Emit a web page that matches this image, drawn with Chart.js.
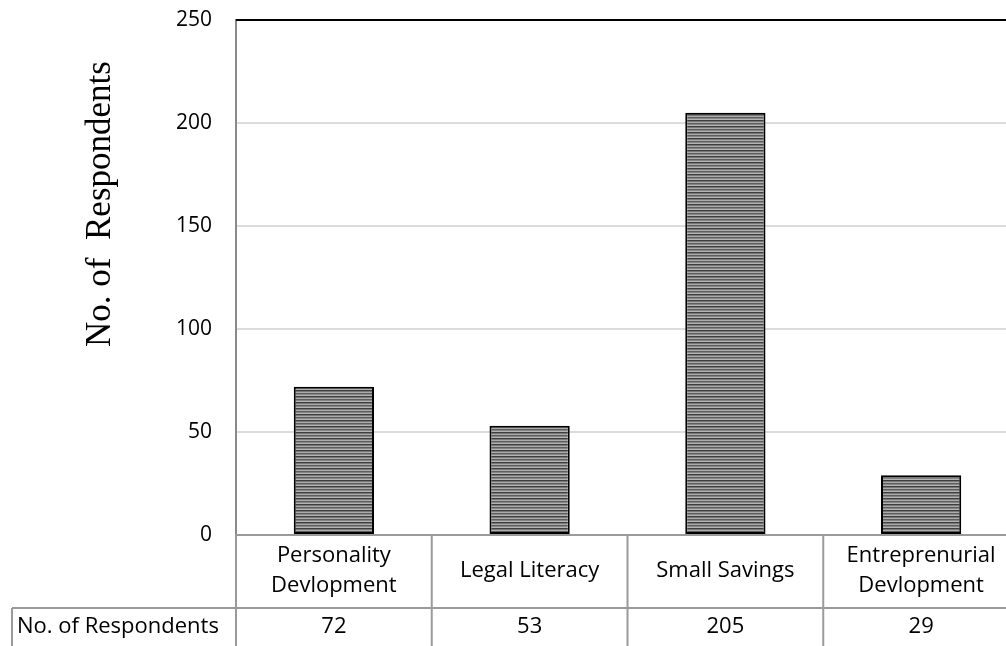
<!DOCTYPE html>
<html>
<head>
<meta charset="utf-8">
<script src="https://cdn.jsdelivr.net/npm/chart.js@4.4.1/dist/chart.umd.min.js"></script>
<style>
html,body{margin:0;padding:0;background:#fff;overflow:hidden;width:1006px;height:646px;}
canvas{display:block;}
</style>
</head>
<body>
<canvas id="c" width="1019" height="646"></canvas>
<script>
const categories = [["Personality","Devlopment"], ["Legal Literacy"], ["Small Savings"], ["Entreprenurial","Devlopment"]];
const respondents = [72, 53, 205, 29];
const seriesName = "No. of Respondents";
const axisTitle = "No. of  Respondents";
const yTicks = [0, 50, 100, 150, 200, 250];

function makePattern(){
  const p = document.createElement('canvas');
  p.width = 8; p.height = 6;
  const g = p.getContext('2d');
  const rows = ['#3e3e3e','#787878','#ababab','#5e5e5e','#858585','#b4b4b4'];
  rows.forEach((c,i)=>{ g.fillStyle=c; g.fillRect(0,i,8,1); });
  return g.createPattern(p,'repeat');
}
const pattern = makePattern();

const TICK_FONT = {family:'Open Sans', size:21};

const tablePlugin = {
  id:'tablePlugin',
  afterDraw(chart){
    const {ctx, chartArea:a, scales:{x}} = chart;
    const n = categories.length;
    const colW = (a.right - a.left)/n;
    ctx.save();
    // top border
    ctx.strokeStyle = '#000'; ctx.lineWidth = 2;
    ctx.beginPath(); ctx.moveTo(a.left, a.top); ctx.lineTo(a.right, a.top); ctx.stroke();
    // table lines
    ctx.strokeStyle = '#9a9a9a'; ctx.lineWidth = 2;
    const rowY = a.bottom + 73;
    ctx.beginPath();
    ctx.moveTo(a.left - 1, a.bottom); ctx.lineTo(a.right, a.bottom);
    ctx.moveTo(12, rowY); ctx.lineTo(a.right, rowY);
    ctx.moveTo(12, rowY); ctx.lineTo(12, chart.height);
    for(let i=0;i<=n;i++){
      const xx = a.left + i*colW;
      ctx.moveTo(xx, a.bottom); ctx.lineTo(xx, chart.height);
    }
    ctx.stroke();
    // text
    ctx.fillStyle = '#000';
    ctx.font = '22px "Open Sans"';
    ctx.textAlign = 'center'; ctx.textBaseline = 'middle';
    categories.forEach((lines,i)=>{
      const cx = x.getPixelForValue(i);
      const mid = a.bottom + 36;
      const lh = 30;
      lines.forEach((t,j)=>{
        ctx.fillText(t, cx, mid + (j - (lines.length-1)/2)*lh);
      });
      ctx.fillText(String(respondents[i]), cx, rowY + 19);
    });
    ctx.textAlign = 'left';
    ctx.fillText(seriesName, 17, rowY + 19);
    // axis title
    ctx.save();
    ctx.translate(101, 204);
    ctx.rotate(-Math.PI/2);
    ctx.font = '35px "Liberation Serif"';
    ctx.textAlign='center'; ctx.textBaseline='middle';
    ctx.fillText(axisTitle, 0, 0);
    ctx.restore();
    ctx.restore();
  }
};

new Chart(document.getElementById('c'), {
  type:'bar',
  data:{
    labels: categories.map(c=>c.join(' ')),
    datasets:[{
      label: seriesName,
      data: respondents,
      backgroundColor: pattern,
      borderColor:'#000',
      borderWidth:2,
      borderSkipped:false,
      categoryPercentage:1,
      barPercentage:0.41
    }]
  },
  options:{
    responsive:false,
    animation:false,
    devicePixelRatio:1,
    layout:{padding:{top:20,bottom:111,left:0,right:0}},
    plugins:{legend:{display:false},tooltip:{enabled:false}},
    scales:{
      x:{
        ticks:{display:false},
        grid:{display:false},
        border:{display:false},
        afterFit(s){ s.height = 0; s.paddingLeft = 0; s.paddingRight = 0; }
      },
      y:{
        min:0,max:250,
        afterBuildTicks(s){ s.ticks = yTicks.map(v=>({value:v})); },
        ticks:{font:TICK_FONT,color:'#000',padding:24},
        grid:{drawTicks:false,color:(c)=> (c.tick && (c.tick.value===250 || c.tick.value===0)) ? 'rgba(0,0,0,0)' : '#dcdcdc', lineWidth:2},
        border:{display:true,color:'#8a8a8a',width:2},
        afterFit(s){ s.width = 236; s.paddingTop = 0; s.paddingBottom = 0; }
      }
    }
  },
  plugins:[tablePlugin]
});
</script>
</body>
</html>
